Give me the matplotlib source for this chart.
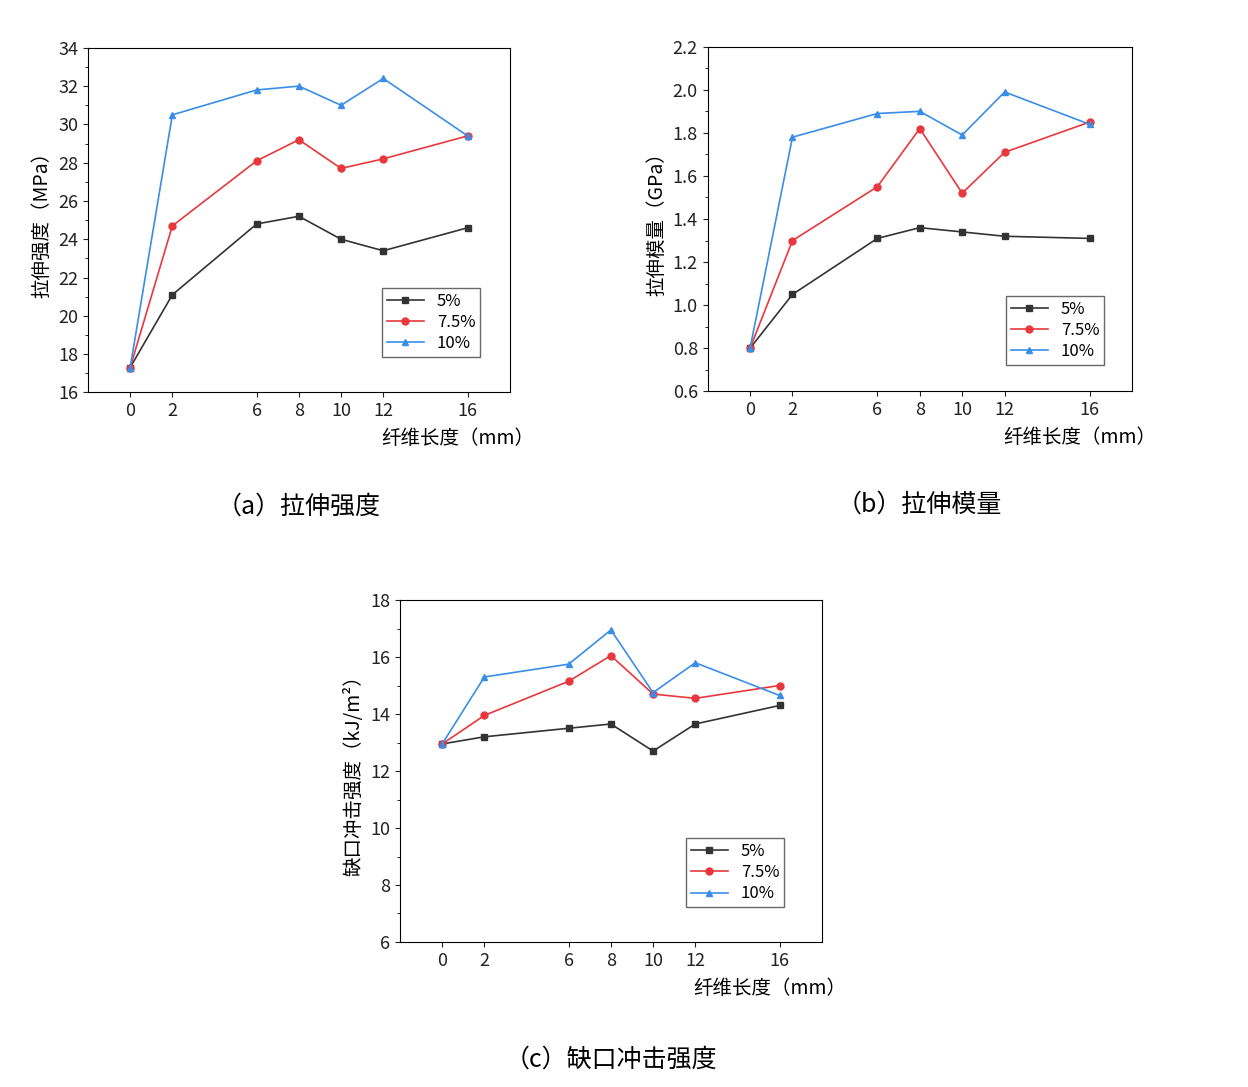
import matplotlib
matplotlib.use("Agg")
import matplotlib.pyplot as plt
from matplotlib.ticker import MultipleLocator
from matplotlib import font_manager

cjk = [f.name for f in font_manager.fontManager.ttflist if 'CJK' in f.name]
pref = [n for n in ["Noto Sans CJK SC", "Noto Sans CJK JP", "Noto Sans CJK TC", "Noto Sans CJK KR"] if n in cjk]
fam = (pref[:1] or cjk[:1])
plt.rcParams['font.family'] = fam + ['DejaVu Sans']

x = [0, 2, 6, 8, 10, 12, 16]
series_names = ["5%", "7.5%", "10%"]

a_5 = [17.3, 21.1, 24.8, 25.2, 24.0, 23.4, 24.6]
a_75 = [17.3, 24.7, 28.1, 29.2, 27.7, 28.2, 29.4]
a_10 = [17.3, 30.5, 31.8, 32.0, 31.0, 32.4, 29.4]

b_5 = [0.80, 1.05, 1.31, 1.36, 1.34, 1.32, 1.31]
b_75 = [0.80, 1.30, 1.55, 1.82, 1.52, 1.71, 1.85]
b_10 = [0.80, 1.78, 1.89, 1.90, 1.79, 1.99, 1.84]

c_5 = [12.95, 13.2, 13.5, 13.65, 12.7, 13.65, 14.3]
c_75 = [12.95, 13.95, 15.15, 16.05, 14.7, 14.55, 15.0]
c_10 = [12.95, 15.3, 15.75, 16.95, 14.75, 15.8, 14.65]

colors = ["#333333", "#e8383d", "#3a8ee6"]
markers = ["s", "o", "^"]

fig = plt.figure(figsize=(12.48, 10.87), dpi=100)

def panel(rect, data, ylim, ystep, ylabel, fmt, leg_anchor, caption, cap_y):
    ax = fig.add_axes(rect)
    for d, c, m, n in zip(data, colors, markers, series_names):
        ax.plot(x, d, color=c, marker=m, markersize=5, lw=1.2, label=n)
    ax.set_xlim(-2, 18)
    ax.set_ylim(*ylim)
    ax.set_xticks(x)
    ax.yaxis.set_major_locator(MultipleLocator(ystep))
    ax.yaxis.set_minor_locator(MultipleLocator(ystep / 2))
    ax.set_yticklabels([fmt.format(v) for v in ax.get_yticks()])
    ax.set_ylim(*ylim)
    ax.tick_params(direction='out', labelsize=13, colors='#222')
    ax.set_ylabel(ylabel, fontsize=14)
    ax.text(0.877, -0.135, "纤维长度（mm）", transform=ax.transAxes,
            ha='center', va='center', fontsize=14)
    ax.legend(loc='upper left', bbox_to_anchor=leg_anchor, fontsize=12,
              fancybox=False, edgecolor='#444', handlelength=2.2,
              borderpad=0.3, labelspacing=0.25, borderaxespad=0)
    ax.text(0.5, cap_y, caption, transform=ax.transAxes, ha='center',
            va='center', fontsize=18)
    return ax

panel([0.0705, 0.639, 0.338, 0.317], [a_5, a_75, a_10], (16, 34), 2,
      "拉伸强度（MPa）", "{:.0f}", (0.697, 0.304), "（a）拉伸强度", -0.33)
panel([0.567, 0.640, 0.340, 0.317], [b_5, b_75, b_10], (0.6, 2.2), 0.2,
      "拉伸模量（GPa）", "{:.1f}", (0.703, 0.278), "（b）拉伸模量", -0.33)
panel([0.3205, 0.1334, 0.338, 0.3146], [c_5, c_75, c_10], (6, 18), 2,
      "缺口冲击强度（kJ/m²）", "{:.0f}", (0.678, 0.304), "（c）缺口冲击强度", -0.345)

fig.savefig("out.png", dpi=100)
